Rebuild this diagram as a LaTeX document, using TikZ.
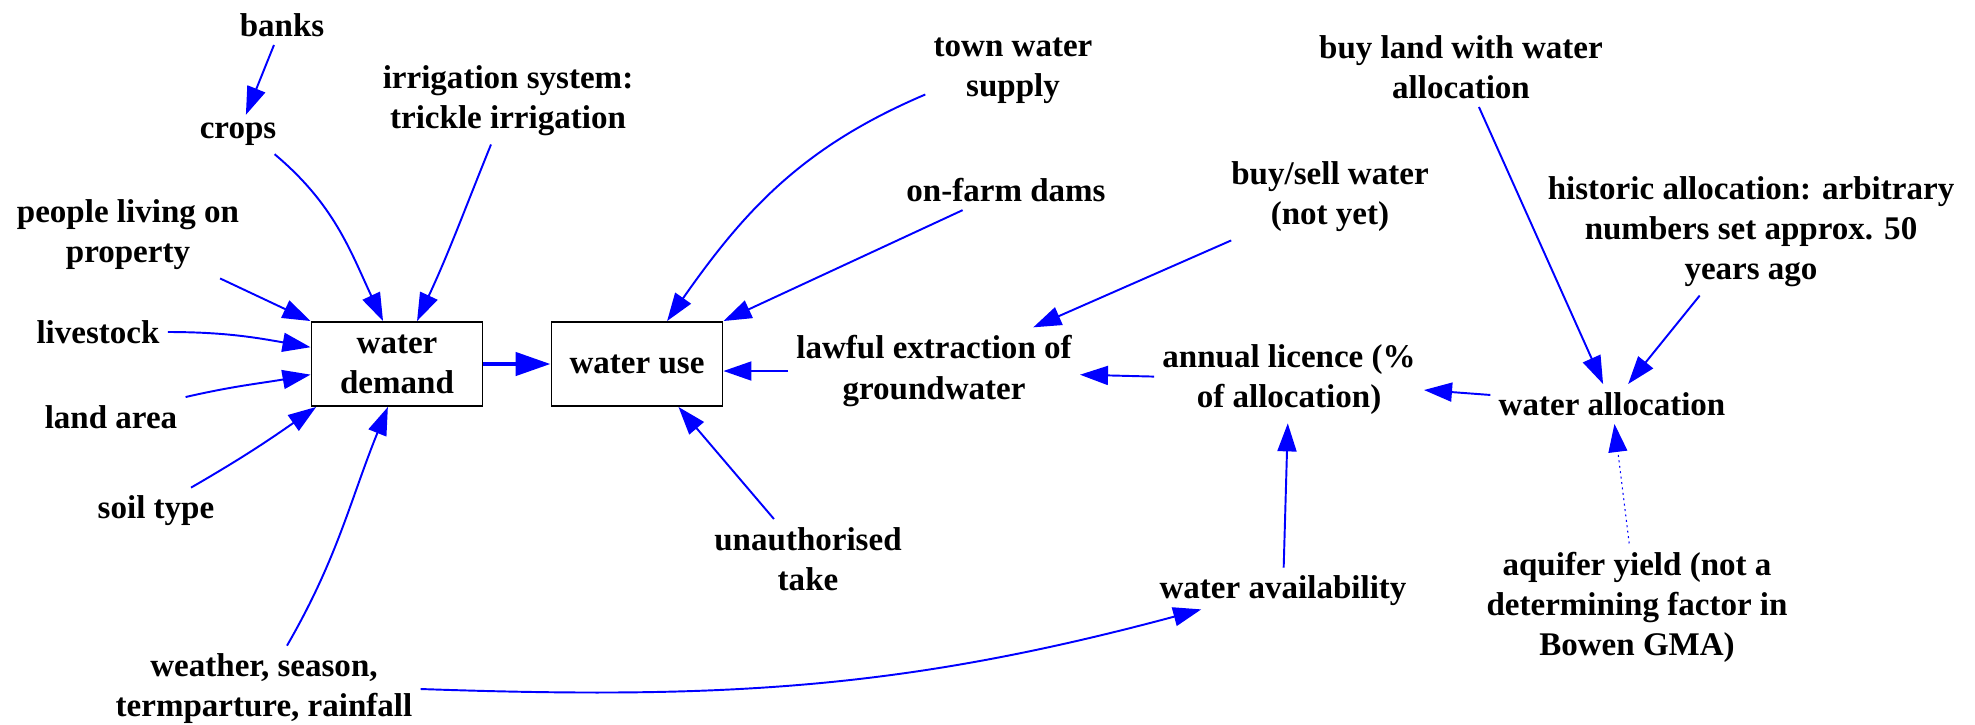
\documentclass[tikz,border=0pt]{standalone}
\usepackage{fontspec}
\setmainfont{Liberation Serif}
\usetikzlibrary{arrows.meta}

\begin{document}
\begin{tikzpicture}[font=\fontsize{18.8}{22.8}\selectfont\bfseries,>={Triangle[length=5.6mm,width=3.8mm]},
 box/.style={draw,line width=1.1pt,minimum width=34.2mm,minimum height=16.8mm,align=center},
 var/.style={align=center,inner sep=1.6mm},
 link/.style={->,blue,line width=1.1pt}]
\useasboundingbox (0,0) rectangle (39.5,-14.48);
\node[box] (demand) at (7.94,-7.28) {water\\demand};
\node[box] (use) at (12.74,-7.28) {water use};
\node[var] (banks) at (5.64,-0.50) {banks};
\node[var] (crops) at (4.76,-2.69) {crops};
\node[var] (irrig) at (10.16,-2.02) {irrigation system:\\trickle irrigation};
\node[var] (people) at (2.56,-4.70) {people living on\\property};
\node[var] (stock) at (1.96,-6.64) {livestock};
\node[var] (land) at (2.22,-8.34) {land area};
\node[var] (soil) at (3.12,-10.22) {soil type};
\node[var] (weather) at (5.28,-13.78) {weather, season,\\termparture, rainfall};
\node[var] (town) at (20.26,-1.42) {town water\\supply};
\node[var] (dams) at (20.12,-3.80) {on-farm dams};
\node[var] (lawful) at (18.68,-7.42) {lawful extraction of\\groundwater};
\node[var] (unauth) at (16.16,-11.18) {unauthorised\\take};
\node[var] (trade) at (26.60,-3.94) {buy/sell water\\(not yet)};
\node[var] (licence) at (25.78,-7.60) {annual licence (\%\\of allocation)};
\node[var] (buyland) at (29.22,-1.34) {buy land with water\\allocation};
\node[var] (historic) at (35.02,-4.64) {historic allocation: arbitrary\\numbers set approx. 50\\years ago};
\node[var] (alloc) at (32.24,-8.08) {water allocation};
\node[var] (avail) at (25.66,-11.82) {water availability};
\node[var] (aquifer) at (32.74,-12.14) {aquifer yield (not a\\determining factor in\\Bowen GMA)};
% inputs to water demand
\draw[link] (banks) -- (crops);
\draw[link] ([xshift=-2mm]crops.south east) to[out=-40,in=115] (demand.108);
\draw[link] ([xshift=-3.4mm]irrig.south) to[out=-112,in=65] (demand.65);
\draw[link] (people) -- (demand.north west);
\draw[link] (stock.east) to[out=0,in=170] (demand.169);
\draw[link] (land.north east) to[out=13,in=190] (demand.187);
\draw[link] ([xshift=7mm]soil.north) to[out=30,in=-145] (demand.208);
\draw[link] ([xshift=4.6mm]weather.north) to[out=60,in=-112] (demand.258);
\draw[link,line width=2.6pt,>={Triangle[length=7mm,width=4.6mm]}] (demand) -- (use);
% inputs to water use
\draw[link] (town.195) to[out=203,in=55] (use.55);
\draw[link] (dams) -- (use.north east);
\draw[link] (lawful.west) -- (lawful.west -| use.east);
\draw[link] (unauth) -- (use.314);
% allocation side
\draw[link] (trade) -- (lawful);
\draw[link] (licence) -- (lawful);
\draw[link] (alloc) -- (licence);
\draw[link] (avail) -- (licence);
\draw[link] (buyland) -- (alloc);
\draw[link] (historic) -- (alloc);
\draw[link,dotted,line width=0.6pt] (aquifer) -- (alloc);
\draw[link] (weather.east) to[out=-2,in=195] ([xshift=10mm,yshift=1mm]avail.south west);
\end{tikzpicture}
\end{document}
